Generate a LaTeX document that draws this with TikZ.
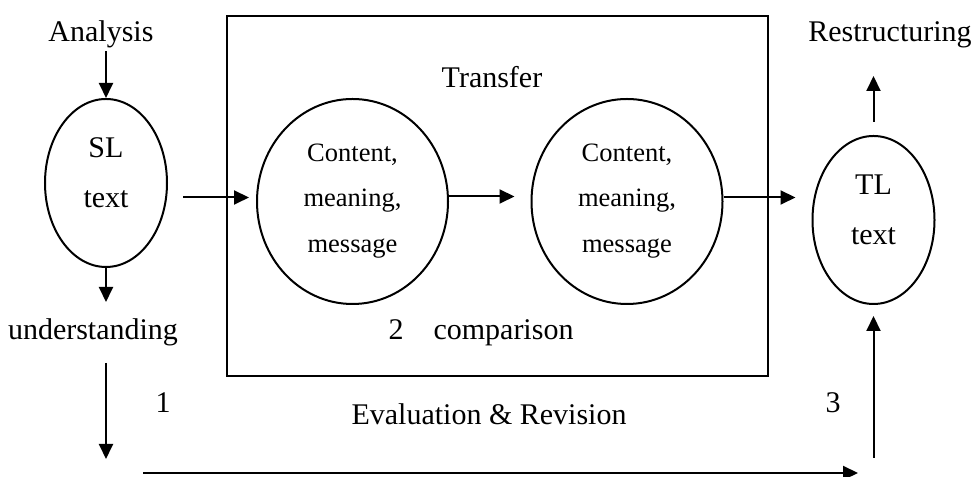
\documentclass[tikz,border=0pt]{standalone}
\usepackage{fontspec}
\setmainfont{Liberation Serif}
\usetikzlibrary{%
    shapes.geometric,%
    arrows.meta,%
    positioning,%
    calc%
}

\begin{document}
\begin{tikzpicture}[x=0.4pt, y=-0.4pt, line width=0.8pt,
    txt/.style = {inner sep=0pt, anchor=base, font=\fontsize{12}{14}\selectfont},
    small/.style = {inner sep=0pt, anchor=base, font=\fontsize{10.6}{12}\selectfont},
    oval/.style = {draw, ellipse, inner sep=0pt, minimum width=48.8pt, minimum height=67.2pt},
    idea/.style = {draw, ellipse, inner sep=0pt, minimum width=76.4pt, minimum height=82pt},
    arr/.style = {-{Triangle[length=6pt, width=5.6pt]}}
]
    \useasboundingbox (0,0) rectangle (974,477);

    % Define the main shapes
    \node[draw, minimum width=216.4pt, minimum height=144pt] (box) at (497.5,196) {};
    \node[oval] (sl) at (106,183) {};
    \node[idea] (c1) at (352.5,201.5) {};
    \node[idea] (c2) at (627,201.5) {};
    \node[oval] (tl) at (873.5,220) {};

    % Texts
    \node[txt] (analysis) at (101,42) {Analysis};
    \node[txt] (slname) at (106,158) {SL};
    \node[txt] (sltext) at (106,208) {text};
    \node[txt] (under) at (93,340) {understanding};
    \node[txt] (one) at (163,413) {1};
    \node[txt] (transfer) at (492,88) {Transfer};
    \node[txt] (compare) at (481,340) {2\quad comparison};
    \node[txt] (evalrev) at (489,425) {Evaluation \& Revision};
    \node[txt] (three) at (833,413) {3};
    \node[txt] (restruct) at (890,42) {Restructuring};
    \node[txt] (tlname) at (873.5,195) {TL};
    \node[txt] (tltext) at (873.5,245) {text};
    \foreach \c in {c1,c2} {
        \node[small] (\c a) at ($(\c)+(0,-39.5)$) {Content,};
        \node[small] (\c b) at ($(\c)+(0,5.5)$) {meaning,};
        \node[small] (\c c) at ($(\c)+(0,51.5)$) {message};
    }

    % Define free ends
    \coordinate (downtop) at (106,363);
    \coordinate (downend) at (106,459);
    \coordinate (evstart) at (143,473);
    \coordinate (evend) at (858,473);
    \coordinate (upstart) at (873.5,458);
    \coordinate (outtop) at (873.5,76);

    % Draw the arrows
    \draw[arr] (analysis.south -| sl) ++(0,2) -- (sl.north);
    \draw[arr] (sl.south) -- (sl.south |- 0,302);
    \draw[arr] (downtop) -- (downend);
    \draw[arr] (evstart) -- (evend);
    \draw[arr, shorten >=4.4pt] (upstart) -- (tl.south);
    \draw[arr, shorten <=5.2pt] (tl.north) -- (outtop);
    \draw[arr, shorten <=6pt, shorten >=2.8pt] (sl.east |- c1.west) ++(0,-4) -- ($(c1.west)+(0,-4)$);
    \draw[arr, shorten >=6.4pt] ($(c1.east)+(0,-5)$) -- ($(c2.west)+(0,-5)$);
    \draw[arr, shorten >=6.4pt] ($(c2.east)+(0,-4)$) -- ($(c2.east -| tl.west)+(0,-4)$);
\end{tikzpicture}
\end{document}
